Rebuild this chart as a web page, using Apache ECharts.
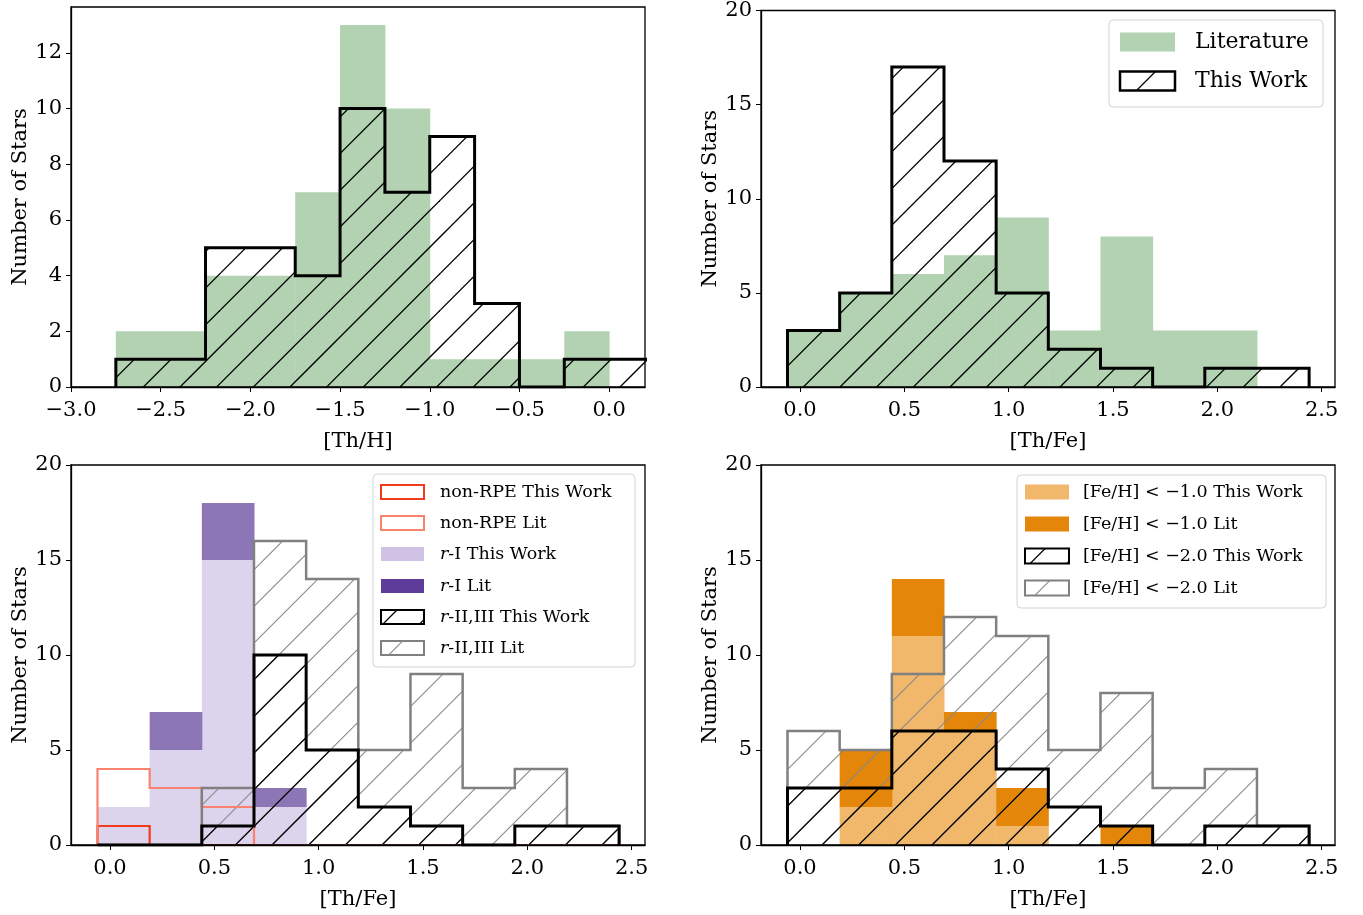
<!DOCTYPE html>
<html>
<head>
<meta charset="utf-8">
<script src="https://cdn.jsdelivr.net/npm/echarts@6/dist/echarts.min.js"></script>
<style>
html, body { margin: 0; padding: 0; background: #fff; }
#main { width: 1363px; height: 915px; }
</style>
</head>
<body>
<div id="main"></div>
<script>
// ---- data (counts per bin) ----
// panel 1 : [Th/H]
var thhEdges = [-2.75, -2.5, -2.25, -2.0, -1.75, -1.5, -1.25, -1.0, -0.75, -0.5, -0.25, 0.0, 0.25];
var thhLit   = [2, 2, 4, 4, 7, 13, 10, 1, 1, 1, 2, 0];
var thhWork  = [1, 1, 5, 5, 4, 10, 7, 9, 3, 0, 1, 1];

// panels 2-4 : [Th/Fe]
var thfeEdges = [-0.06, 0.19, 0.44, 0.69, 0.94, 1.19, 1.44, 1.69, 1.94, 2.19, 2.44];
var thfeLit   = [3, 5, 6, 7, 9, 3, 8, 3, 3, 0];
var thfeWork  = [3, 5, 17, 12, 5, 2, 1, 0, 1, 1];

// panel 3 : by r-process class
var nonRpeWork = [1, 0, 0, 0, 0, 0, 0, 0, 0, 0];
var nonRpeLit  = [4, 3, 2, 0, 0, 0, 0, 0, 0, 0];
var rIWork     = [2, 5, 15, 2, 0, 0, 0, 0, 0, 0];
var rILit      = [0, 2, 3, 1, 0, 0, 0, 0, 0, 0];   // stacked on rIWork
var rIIWork    = [0, 0, 1, 10, 5, 2, 1, 0, 1, 1];
var rIILit     = [0, 0, 3, 16, 14, 5, 9, 3, 4, 1];

// panel 4 : by metallicity
var feh1Work = [0, 2, 11, 6, 1, 0, 0, 0, 0, 0];
var feh1Lit  = [0, 3, 3, 1, 2, 0, 1, 0, 0, 0];     // stacked on feh1Work
var feh2Work = [3, 3, 6, 6, 4, 2, 1, 0, 1, 1];
var feh2Lit  = [6, 5, 9, 12, 11, 5, 8, 3, 4, 1];

var thhTicks  = [-3.0, -2.5, -2.0, -1.5, -1.0, -0.5, 0.0];
var thfeTicks = [0.0, 0.5, 1.0, 1.5, 2.0, 2.5];
var countTicks1 = [0, 2, 4, 6, 8, 10, 12];
var countTicks2 = [0, 5, 10, 15, 20];

var legend2 = ['Literature', 'This Work'];
var legend3 = ['non-RPE This Work', 'non-RPE Lit', '{i|r}-I This Work', '{i|r}-I Lit', '{i|r}-II,III This Work', '{i|r}-II,III Lit'];
var legend4 = ['[Fe/H] < \u22121.0 This Work', '[Fe/H] < \u22121.0 Lit', '[Fe/H] < \u22122.0 This Work', '[Fe/H] < \u22122.0 Lit'];

var FONT = 'DejaVu Serif';
var GREEN = '#b2d2b2';
var RED = '#f23b1b', SALMON = '#f9826e';
var LAV = '#dcd3ec', LAV_LEG = '#cfc2e5';
var PURP = '#8d76b6', PURP_LEG = '#5e3c99';
var LORANGE = '#f1b76a', DORANGE = '#e4860a';
var GREY = '#808080';

// diagonal hatch tile, 3 periods of 36.67px so the lines stay put across tiles
function makeHatch(color, lw) {
    var S = 110, P = S / 3, off = 17;
    var c = document.createElement('canvas');
    c.width = S; c.height = S;
    var ctx = c.getContext('2d');
    ctx.strokeStyle = color;
    ctx.lineWidth = lw;
    for (var k = -1; k <= 7; k++) {
        var s = off + k * P;
        ctx.beginPath();
        ctx.moveTo(s + 10, -10);
        ctx.lineTo(s - S - 10, S + 10);
        ctx.stroke();
    }
    return { image: c, repeat: 'repeat' };
}
var hatchBlack = makeHatch('#000', 1.3);
var hatchGrey = makeHatch('#8a8a8a', 1.1);

function stepData(edges, vals) {
    var d = [[edges[0], 0]];
    for (var i = 0; i < vals.length; i++) d.push([edges[i], vals[i]]);
    d.push([edges[vals.length], vals[vals.length - 1]]);
    d.push([edges[vals.length], 0]);
    return d;
}

var series = [];

function addBars(g, edges, base, vals, color) {
    var items = [];
    for (var i = 0; i < vals.length; i++) {
        var b = base ? base[i] : 0;
        if (vals[i] > 0) items.push([edges[i], edges[i + 1], b, b + vals[i]]);
    }
    series.push({
        type: 'custom', xAxisIndex: g, yAxisIndex: g, z: 2, silent: true,
        encode: { x: [0, 1], y: [2, 3] },
        data: items,
        renderItem: function (params, api) {
            var a = api.coord([api.value(0), api.value(2)]);
            var b = api.coord([api.value(1), api.value(3)]);
            return {
                type: 'rect',
                shape: { x: a[0], y: b[1], width: b[0] - a[0] + 0.5, height: a[1] - b[1] },
                style: { fill: color }
            };
        }
    });
}

function addStep(g, edges, vals, color, width, pattern) {
    var s = {
        type: 'line', xAxisIndex: g, yAxisIndex: g, z: 3, silent: true,
        step: 'end', symbol: 'none', clip: true,
        data: stepData(edges, vals),
        itemStyle: { color: color },
        lineStyle: { color: color, width: width, join: 'miter', cap: 'butt' }
    };
    if (pattern) s.areaStyle = { color: pattern, opacity: 1 };
    series.push(s);
}

// panel 1
addBars(0, thhEdges, null, thhLit, GREEN);
addStep(0, thhEdges, thhWork, '#000', 3, hatchBlack);
// panel 2
addBars(1, thfeEdges, null, thfeLit, GREEN);
addStep(1, thfeEdges, thfeWork, '#000', 3, hatchBlack);
// panel 3
addBars(2, thfeEdges, null, rIWork, LAV);
addBars(2, thfeEdges, rIWork, rILit, PURP);
addStep(2, thfeEdges, nonRpeWork, RED, 2.2, null);
addStep(2, thfeEdges, nonRpeLit, SALMON, 2.2, null);
addStep(2, thfeEdges, rIILit, GREY, 2.5, hatchGrey);
addStep(2, thfeEdges, rIIWork, '#000', 3, hatchBlack);
// panel 4
addBars(3, thfeEdges, null, feh1Work, LORANGE);
addBars(3, thfeEdges, feh1Work, feh1Lit, DORANGE);
addStep(3, thfeEdges, feh2Lit, GREY, 2.5, hatchGrey);
addStep(3, thfeEdges, feh2Work, '#000', 3, hatchBlack);

function fmtX(v) { return (v < 0 ? '\u2212' : '') + Math.abs(v).toFixed(1); }

function xAxis(g, min, max, ticks, name) {
    return {
        type: 'value', gridIndex: g, min: min, max: max, z: 10,
        name: name, nameLocation: 'middle', nameGap: 44,
        nameTextStyle: { fontFamily: FONT, fontSize: 21, color: '#000' },
        axisLine: { onZero: false, lineStyle: { color: '#000', width: 1.3 } },
        axisTick: { customValues: ticks, length: 5, lineStyle: { color: '#000', width: 1 } },
        axisLabel: { customValues: ticks, formatter: fmtX, margin: 13, fontFamily: FONT, fontSize: 21, color: '#000' },
        splitLine: { show: false }
    };
}
function yAxis(g, max, ticks) {
    return {
        type: 'value', gridIndex: g, min: 0, max: max, z: 10,
        name: 'Number of Stars', nameLocation: 'middle', nameGap: 40,
        nameTextStyle: { fontFamily: FONT, fontSize: 21, color: '#000' },
        axisLine: { onZero: false, lineStyle: { color: '#000', width: 1.3 } },
        axisTick: { customValues: ticks, length: 5, lineStyle: { color: '#000', width: 1 } },
        axisLabel: { customValues: ticks, margin: 9, fontFamily: FONT, fontSize: 21, color: '#000' },
        splitLine: { show: false }
    };
}

function gridBox(left, top) {
    return { left: left, top: top, width: 574, height: 380, show: true, z: 10,
             backgroundColor: 'transparent', borderColor: '#000', borderWidth: 1.3 };
}

// hand-drawn legend boxes
function legendBox(x, y, w, h, rows, fontSize, patchX, patchW, patchH, textX, rowY) {
    var kids = [{
        type: 'rect', shape: { x: x, y: y, width: w, height: h, r: 4 },
        style: { fill: 'rgba(255,255,255,0.8)', stroke: '#d4d4d4', lineWidth: 1 }
    }];
    rows.forEach(function (r, i) {
        var cy = rowY[i];
        var st = { fill: r.fill || 'none', stroke: r.stroke || null, lineWidth: r.lw || 0 };
        kids.push({ type: 'rect', shape: { x: patchX, y: cy - patchH / 2, width: patchW, height: patchH }, style: st });
        kids.push({
            type: 'text', x: textX, y: cy,
            style: {
                text: r.text, fontFamily: FONT, fontSize: fontSize, fill: '#000',
                verticalAlign: 'middle', align: 'left',
                rich: { i: { fontFamily: FONT, fontSize: fontSize, fontStyle: 'italic', fill: '#000' } }
            }
        });
    });
    return { type: 'group', z: 20, children: kids };
}

var graphics = [
    legendBox(1109, 20, 214, 87, [
        { text: legend2[0], fill: GREEN },
        { text: legend2[1], fill: hatchBlack, stroke: '#000', lw: 2.5 }
    ], 22, 1120, 55, 19, 1195, [42, 81]),
    legendBox(373, 474, 262, 193, [
        { text: legend3[0], fill: '#fff', stroke: RED, lw: 2 },
        { text: legend3[1], fill: '#fff', stroke: SALMON, lw: 2 },
        { text: legend3[2], fill: LAV_LEG },
        { text: legend3[3], fill: PURP_LEG },
        { text: legend3[4], fill: hatchBlack, stroke: '#000', lw: 2 },
        { text: legend3[5], fill: hatchGrey, stroke: GREY, lw: 2 }
    ], 17.5, 381, 43, 14, 440, [492, 523, 554, 586, 617, 648]),
    legendBox(1017, 475, 309, 133, [
        { text: legend4[0], fill: LORANGE },
        { text: legend4[1], fill: DORANGE },
        { text: legend4[2], fill: hatchBlack, stroke: '#000', lw: 2 },
        { text: legend4[3], fill: hatchGrey, stroke: GREY, lw: 2 }
    ], 17.5, 1025, 44, 15, 1083, [492, 524, 556, 588])
];

var myChart = echarts.init(document.getElementById('main'), null, { renderer: 'canvas' });
var option = {
    animation: false,
    backgroundColor: '#fff',
    grid: [gridBox(71, 7), gridBox(761, 7), gridBox(71, 465), gridBox(761, 465)],
    xAxis: [
        xAxis(0, -3.0, 0.2, thhTicks, '[Th/H]'),
        xAxis(1, -0.187, 2.564, thfeTicks, '[Th/Fe]'),
        xAxis(2, -0.187, 2.564, thfeTicks, '[Th/Fe]'),
        xAxis(3, -0.187, 2.564, thfeTicks, '[Th/Fe]')
    ],
    yAxis: [
        yAxis(0, 13.65, countTicks1),
        yAxis(1, 20, countTicks2),
        yAxis(2, 20, countTicks2),
        yAxis(3, 20, countTicks2)
    ],
    series: series,
    graphic: graphics
};
myChart.setOption(option);
</script>
</body>
</html>
